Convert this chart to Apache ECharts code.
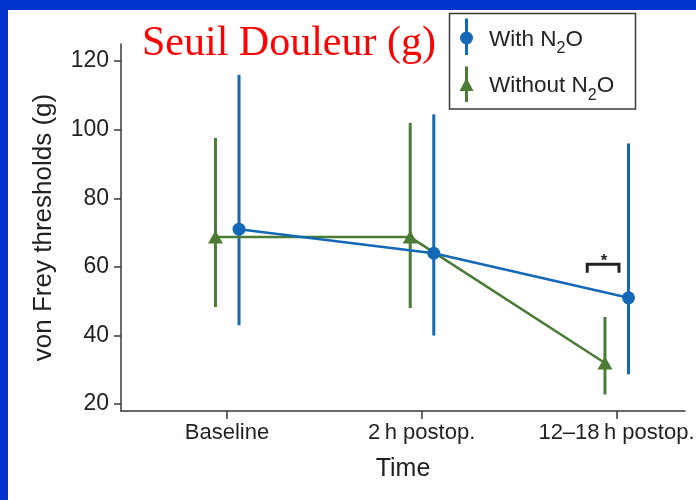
<!DOCTYPE html>
<html><head><meta charset="utf-8">
<script src="https://cdn.jsdelivr.net/npm/echarts@6/dist/echarts.min.js"></script>
<style>
html,body{margin:0;padding:0;background:#0033cc;overflow:hidden;}
#bg{position:absolute;left:8px;top:10px;width:688px;height:490px;background:#fff;}
#main{position:absolute;left:0;top:0;width:696px;height:500px;}
</style></head><body>
<div id="bg"></div><div id="main"></div>
<script>
// ---- data ----
const categories = ['Baseline', '2\u2009h postop.', '12\u201318\u2009h postop.'];
const yTicks = [20, 40, 60, 80, 100, 120];
const withMean = [71, 64, 51];
const withLow = [43, 40, 28.7];
const withHigh = [116, 104.5, 96];
const withoutMean = [68.7, 68.7, 32];
const withoutLow = [48.3, 48, 22.8];
const withoutHigh = [97.6, 102, 45.4];
const sigBracketX = [1.85, 2.013];
const sigBracketY = [60.8, 58.3];
const sigLabel = '*';
const seriesNames = ['With N2O', 'Without N2O'];
const legendParts = [['With N', '2', 'O'], ['Without N', '2', 'O']];

// ---- style ----
const BLUE = '#1468b8';
const GREEN = '#4b7c35';
const TXT = '#231f20';
const FONT = '"Liberation Sans", Arial, sans-serif';
const offWith = 0.062, offWithout = -0.059;

const chart = echarts.init(document.getElementById('main'), null, {renderer: 'canvas'});

function errBars(name, low, high, off, color) {
  return {
    type: 'custom', name: name, coordinateSystem: 'cartesian2d', z: 3,
    encode: {x: 0, y: [1, 2]},
    data: categories.map((_, i) => [i + off, low[i], high[i]]),
    renderItem: function (params, api) {
      const a = api.coord([api.value(0), api.value(1)]);
      const b = api.coord([api.value(0), api.value(2)]);
      return {type: 'line', shape: {x1: a[0], y1: a[1], x2: b[0], y2: b[1]},
        style: {stroke: color, lineWidth: 3}};
    }
  };
}

// legend text with subscript, laid out with measured widths
const mctx = document.createElement('canvas').getContext('2d');
function measure(t, fs) { mctx.font = fs + 'px "Liberation Sans"'; return mctx.measureText(t).width; }
function legendText(parts, x, baseline) {
  const specs = [[parts[0], 22.5, 0], [parts[1], 16, 6.7], [parts[2], 22.5, 0]];
  const out = [];
  let cx = x;
  specs.forEach(([t, fs, dy]) => {
    out.push({type: 'text', x: cx, y: baseline + dy - 0.36 * fs,
      style: {text: t, font: fs + 'px ' + FONT, fill: TXT, align: 'left', verticalAlign: 'middle'}});
    cx += measure(t, fs);
  });
  return out;
}

const legendGroup = {
  type: 'group', left: 0, top: 0, bounding: 'raw',
  children: [
    {type: 'rect', shape: {x: 449.5, y: 13.5, width: 186, height: 95.5},
      style: {fill: '#fff', stroke: '#3a3a3a', lineWidth: 1.5}},
    {type: 'line', shape: {x1: 466.5, y1: 18.5, x2: 466.5, y2: 55}, style: {stroke: BLUE, lineWidth: 3}},
    {type: 'circle', shape: {cx: 466.5, cy: 38, r: 6.5}, style: {fill: BLUE}},
    {type: 'line', shape: {x1: 466.5, y1: 66.5, x2: 466.5, y2: 102}, style: {stroke: GREEN, lineWidth: 3}},
    {type: 'polygon', shape: {points: [[466.5, 78], [473.5, 91], [459.5, 91]]}, style: {fill: GREEN}}
  ].concat(legendText(legendParts[0], 489, 48), legendText(legendParts[1], 489, 94.3))
};

const option = {
  animation: false,
  backgroundColor: 'transparent',
  textStyle: {fontFamily: FONT},
  grid: {left: 121, right: 11, top: 44, bottom: 89, containLabel: false, outerBoundsMode: 'none'},
  graphic: [{
    type: 'text', left: 142, top: 23,
    style: {text: 'Seuil Douleur (g)', font: '42px "Liberation Serif", "Times New Roman", serif', fill: '#ff0000'}
  }, legendGroup],
  xAxis: {
    type: 'value', min: -0.544, max: 2.352,
    name: 'Time', nameLocation: 'middle', nameGap: 46,
    nameTextStyle: {fontSize: 25, color: TXT, fontFamily: FONT},
    axisLine: {show: true, onZero: false, lineStyle: {color: '#3a3a3a', width: 1.5}},
    axisTick: {show: true, customValues: [0, 1, 2], length: 8, lineStyle: {color: '#3a3a3a', width: 1.5}},
    axisLabel: {customValues: [0, 1, 2], margin: 11, fontSize: 22, color: TXT, fontFamily: FONT,
      hideOverlap: false, formatter: v => categories[Math.round(v)]},
    splitLine: {show: false}
  },
  yAxis: {
    type: 'value', min: 18, max: 125,
    name: 'von Frey thresholds (g)', nameLocation: 'middle', nameGap: 64,
    nameTextStyle: {fontSize: 26, color: TXT, fontFamily: FONT},
    axisLine: {show: true, onZero: false, lineStyle: {color: '#3a3a3a', width: 1.5}},
    axisTick: {show: true, customValues: yTicks, length: 7, lineStyle: {color: '#3a3a3a', width: 1.5}},
    axisLabel: {customValues: yTicks, margin: 12, fontSize: 23, color: TXT, fontFamily: FONT},
    splitLine: {show: false}
  },
  series: [
    errBars('With err', withLow, withHigh, offWith, BLUE),
    errBars('Without err', withoutLow, withoutHigh, offWithout, GREEN),
    {
      type: 'line', name: seriesNames[1], z: 4,
      data: categories.map((_, i) => [i + offWithout, withoutMean[i]]),
      symbol: 'triangle', symbolSize: [15, 13],
      itemStyle: {color: GREEN}, lineStyle: {color: GREEN, width: 2.5}
    },
    {
      type: 'line', name: seriesNames[0], z: 5,
      data: categories.map((_, i) => [i + offWith, withMean[i]]),
      symbol: 'circle', symbolSize: 13,
      itemStyle: {color: BLUE}, lineStyle: {color: BLUE, width: 2.5}
    },
    {
      type: 'custom', name: 'sig', coordinateSystem: 'cartesian2d', z: 6,
      encode: {x: [0, 1], y: [2, 3]},
      data: [[sigBracketX[0], sigBracketX[1], sigBracketY[0], sigBracketY[1]]],
      renderItem: function (params, api) {
        const x1 = api.value(0), x2 = api.value(1), yt = api.value(2), yl = api.value(3);
        const p1 = api.coord([x1, yl]), p2 = api.coord([x1, yt]);
        const p3 = api.coord([x2, yt]), p4 = api.coord([x2, yl]);
        return {type: 'group', children: [
          {type: 'polyline', shape: {points: [p1, p2, p3, p4]},
            style: {stroke: '#222', lineWidth: 3, fill: null}},
          {type: 'text', x: (p2[0] + p3[0]) / 2 + 1, y: p2[1] - 3,
            style: {text: sigLabel, font: 'bold 17px ' + FONT, fill: '#222', align: 'center', verticalAlign: 'middle'}}
        ]};
      }
    }
  ]
};
chart.setOption(option);
</script>
</body></html>
